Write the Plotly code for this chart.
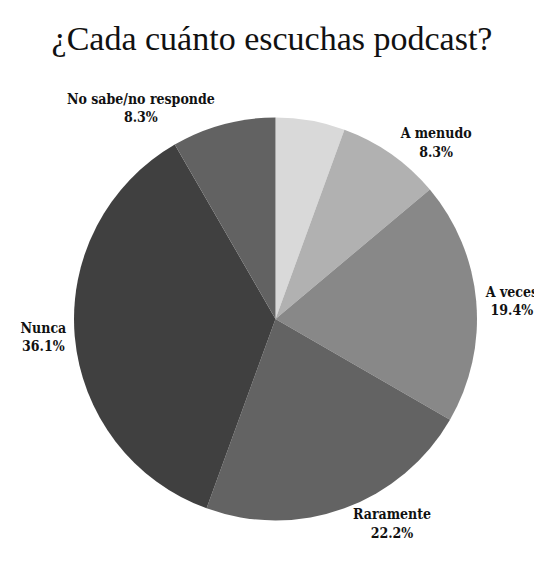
import plotly.graph_objects as go

categories = ["Siempre", "A menudo", "A veces", "Raramente", "Nunca", "No sabe/no responde"]
values = [2, 3, 7, 8, 13, 3]
show_label = [False, True, True, True, True, True]
colors = ["#d9d9d9", "#b1b1b1", "#888888", "#636363", "#404040", "#626262"]

total = sum(values)
texts = [
    f"<b>{c}</b><br><b>{v / total * 100:.1f}%</b>" if s else ""
    for c, v, s in zip(categories, values, show_label)
]

fig = go.Figure(
    go.Pie(
        labels=categories,
        values=values,
        text=texts,
        textinfo="text",
        textposition="outside",
        sort=False,
        direction="clockwise",
        rotation=0,
        marker=dict(colors=colors, line=dict(width=0)),
        textfont=dict(family="DejaVu Serif Condensed", size=14, color="#111111"),
        automargin=False,
        showlegend=False,
        domain=dict(x=[66 / 542, 469 / 542], y=[1 - 513 / 564, 1 - 109 / 564]),
        hoverinfo="label+percent",
    )
)

fig.update_layout(
    width=542,
    height=564,
    margin=dict(l=0, r=0, t=0, b=0),
    paper_bgcolor="white",
    plot_bgcolor="white",
    title=dict(
        text="¿Cada cuánto escuchas podcast?",
        x=264 / 542,
        xanchor="center",
        y=1 - 30 / 564,
        yanchor="middle",
        font=dict(family="Liberation Serif", size=34, color="#111111"),
    ),
)

fig.write_html("out.html")
